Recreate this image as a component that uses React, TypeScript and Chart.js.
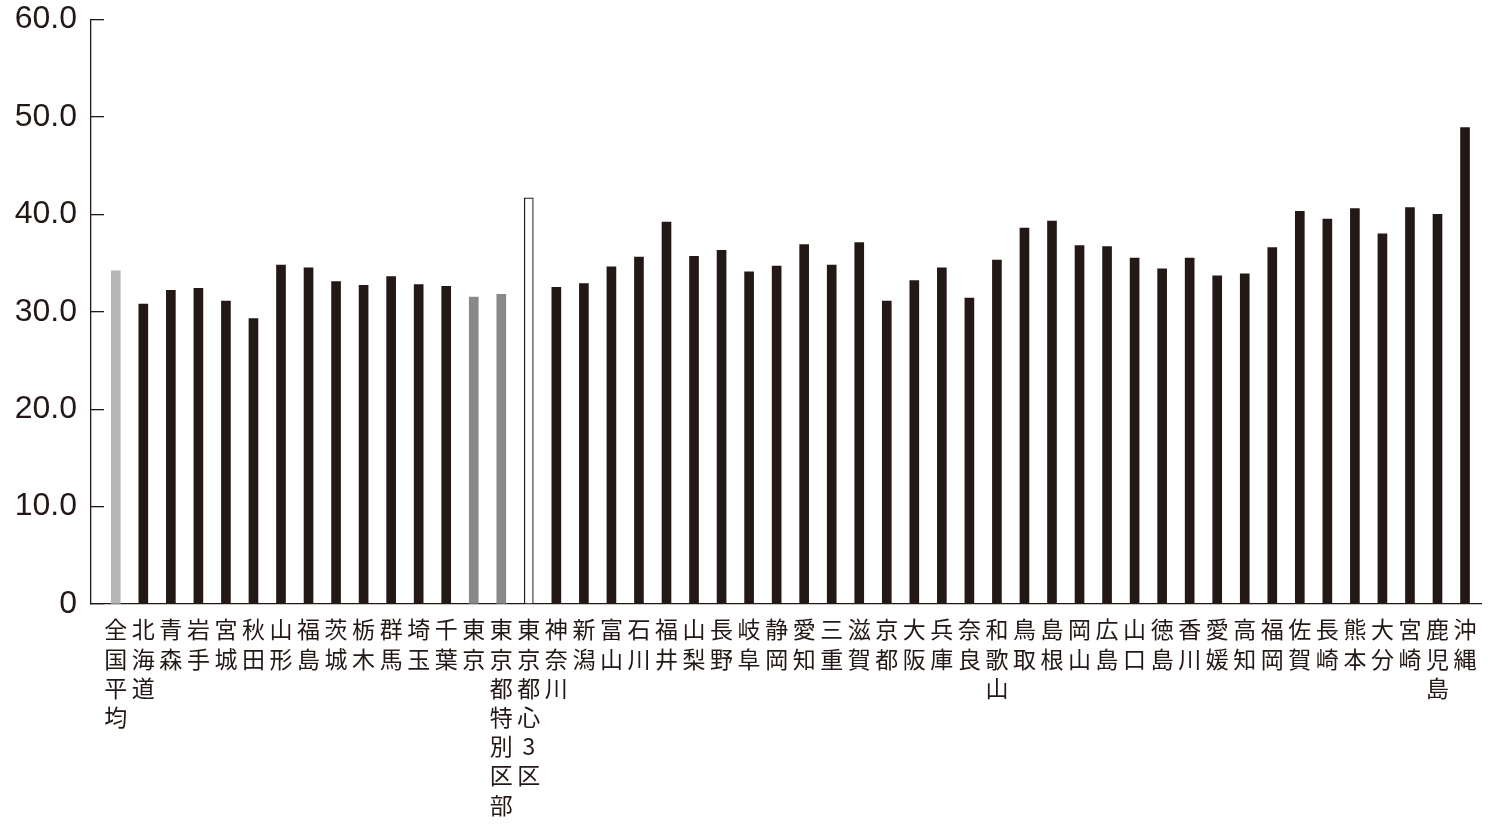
import React, { useEffect, useRef } from "react";
import { Chart, registerables } from "chart.js";

Chart.register(...registerables);

const categories: string[] = [
  "全国平均", "北海道", "青森", "岩手", "宮城", "秋田", "山形", "福島", "茨城", "栃木",
  "群馬", "埼玉", "千葉", "東京", "東京都特別区部", "東京都心3区", "神奈川", "新潟", "富山", "石川",
  "福井", "山梨", "長野", "岐阜", "静岡", "愛知", "三重", "滋賀", "京都", "大阪",
  "兵庫", "奈良", "和歌山", "鳥取", "島根", "岡山", "広島", "山口", "徳島", "香川",
  "愛媛", "高知", "福岡", "佐賀", "長崎", "熊本", "大分", "宮崎", "鹿児島", "沖縄",
];

const values: number[] = [
  34.2, 30.8, 32.2, 32.4, 31.1, 29.3, 34.8, 34.5, 33.1, 32.7,
  33.6, 32.8, 32.6, 31.5, 31.8, 41.7, 32.5, 32.9, 34.6, 35.6,
  39.2, 35.7, 36.3, 34.1, 34.7, 36.9, 34.8, 37.1, 31.1, 33.2,
  34.5, 31.4, 35.3, 38.6, 39.3, 36.8, 36.7, 35.5, 34.4, 35.5,
  33.7, 33.9, 36.6, 40.3, 39.5, 40.6, 38.0, 40.7, 40.0, 48.9,
];

const yTicks: number[] = [0, 10, 20, 30, 40, 50, 60];

const nationalCategory = "全国平均";
const tokyoCategories = ["東京", "東京都特別区部"];
const centralCategory = "東京都心3区";

const INK = "#231815";

function fillFor(name: string): string {
  if (name === nationalCategory) return "#b5b5b5";
  if (tokyoCategories.includes(name)) return "#898989";
  if (name === centralCategory) return "#ffffff";
  return INK;
}

export default function App() {
  const canvasRef = useRef<HTMLCanvasElement | null>(null);

  useEffect(() => {
    const canvas = canvasRef.current;
    if (!canvas) return;
    const points = values.map((v, i) => ({ x: i, y: v }));
    const chart = new Chart(canvas, {
      type: "bar",
      data: {
        datasets: [
          {
            data: points as any,
            backgroundColor: categories.map(fillFor),
            borderColor: INK,
            borderWidth: categories.map((c) => (c === centralCategory ? 1.2 : 0)),
            barThickness: 9,
          },
        ],
      },
      options: {
        responsive: false,
        animation: false,
        devicePixelRatio: 1,
        layout: { padding: { left: 0, right: 7, top: 0, bottom: 0 } },
        plugins: {
          legend: { display: false },
          tooltip: { enabled: false },
        },
        scales: {
          x: {
            type: "linear",
            offset: false,
            min: -0.9,
            max: 49.58,
            grid: { display: true, offset: false, drawOnChartArea: false, drawTicks: false, color: INK },
            border: { display: true, color: INK, width: 1.3 },
            afterBuildTicks: (scale: any) => {
              scale.ticks = categories.map((_, i) => ({ value: i }));
            },
            afterFit: (scale: any) => {
              scale.height = 832 - 604;
              scale.paddingLeft = 0;
              scale.paddingRight = 0;
            },
            ticks: {
              autoSkip: false,
              maxRotation: 0,
              minRotation: 0,
              padding: 11,
              color: INK,
              font: { family: "'Noto Sans CJK JP', sans-serif", size: 23, lineHeight: 1.27 },
              callback: (value: any) => {
                const name = categories[Math.round(Number(value))];
                return name ? Array.from(name) : "";
              },
            },
          },
          y: {
            min: 0,
            max: 60,
            afterBuildTicks: (scale: any) => {
              scale.ticks = yTicks.map((v) => ({ value: v }));
            },
            afterFit: (scale: any) => {
              scale.width = 91;
              scale.paddingTop = 19.5;
              scale.paddingBottom = 0;
            },
            grid: { display: true, drawOnChartArea: false, drawTicks: true, tickLength: -13, color: INK, lineWidth: 1.3 },
            border: { display: true, color: INK, width: 1.3 },
            ticks: {
              padding: 27,
              color: INK,
              font: { family: "'Liberation Sans', Arial, sans-serif", size: 32 },
              callback: (value: any) => (Number(value) === 0 ? "0" : Number(value).toFixed(1)),
            },
          },
        },
      },
    });
    return () => chart.destroy();
  }, []);

  return (
    <div style={{ position: "absolute", left: 0, top: 0, width: 1488, height: 832, background: "#ffffff" }}>
      <canvas ref={canvasRef} width={1488} height={832} style={{ display: "block", width: 1488, height: 832 }} />
    </div>
  );
}
